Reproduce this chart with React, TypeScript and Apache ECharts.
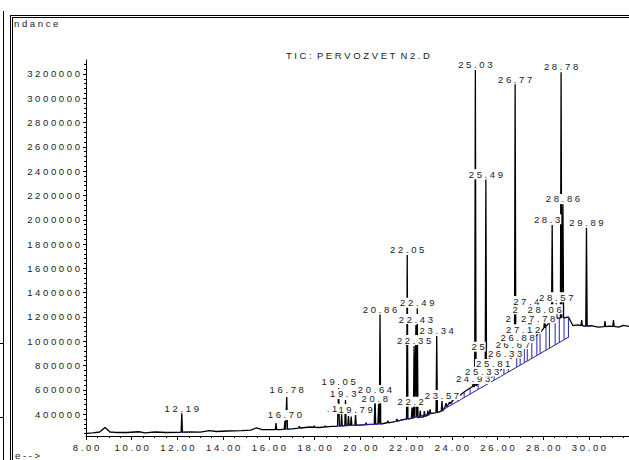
import React, { useEffect, useRef } from 'react';
import * as echarts from 'echarts';

// ---- chromatogram baseline trace (time in min, abundance) ----
const traceTimes = [8.0, 8.3, 8.6, 8.83, 9.05, 9.3, 9.8, 10.3, 10.6, 11.0, 11.5, 12.0, 12.5, 13.0, 13.4, 13.7, 14.2, 14.8, 15.2, 15.45, 15.7, 16.0, 16.5, 17.0, 17.4, 17.8, 18.2, 18.6, 19.0, 20.0, 20.4, 21.0, 21.4, 21.8, 22.7, 23.1, 23.7, 24.01, 24.27, 24.54, 24.8, 25.15, 25.535, 25.85, 26.07, 26.28, 26.47, 26.84, 26.99, 27.17, 27.3, 27.5, 27.72, 27.86, 28.12, 28.27, 28.52, 28.7, 28.91, 29.1, 29.3, 29.5, 29.8, 30.1, 30.4, 30.9, 31.3, 31.5, 31.75];
const traceValues = [241000, 245000, 253000, 290000, 253000, 249000, 249000, 255000, 246000, 253000, 249000, 250000, 253000, 252000, 265000, 257000, 261000, 265000, 269000, 286000, 273000, 273000, 273000, 278000, 286000, 294000, 290000, 298000, 302000, 310000, 316000, 323000, 335000, 352000, 376000, 409000, 459000, 508000, 541000, 582000, 615000, 648000, 681000, 714000, 747000, 795000, 829000, 911000, 928000, 950000, 985000, 1010000, 1051000, 1068000, 1125000, 1150000, 1191000, 1191000, 1191000, 1200000, 1128000, 1134000, 1125000, 1128000, 1117000, 1125000, 1117000, 1130000, 1122000];

// ---- peaks ----
const peakTimes = [12.19, 16.31, 16.7, 16.78, 17.33, 17.98, 18.45, 19.05, 19.18, 19.35, 19.48, 19.6, 19.79, 20.25, 20.64, 20.8, 20.86, 21.2, 21.6, 22.05, 22.26, 22.35, 22.43, 22.49, 22.62, 22.8, 22.95, 23.05, 23.34, 23.57, 23.75, 23.9, 24.15, 24.93, 25.03, 25.33, 25.49, 25.58, 25.65, 25.81, 26.33, 26.67, 26.77, 26.88, 27.12, 27.25, 27.38, 27.45, 27.78, 28.06, 28.39, 28.57, 28.78, 28.86, 29.68, 29.89, 30.7, 31.07];
const peakApex = [407000, 327000, 343000, 541000, 300000, 305000, 303000, 615000, 401000, 516000, 385000, 380000, 393000, 330000, 549000, 483000, 1222000, 345000, 360000, 1710000, 455000, 961000, 1134000, 1271000, 430000, 425000, 430000, 440000, 1043000, 508000, 490000, 500000, 540000, 648000, 3233000, 706000, 2333000, 792000, 906000, 763000, 851000, 928000, 3115000, 977000, 1049000, 1139000, 1213000, 1282000, 1139000, 1213000, 1957000, 1312000, 3214000, 2127000, 1175000, 1935000, 1167000, 1175000];
const peakBase = [251000, 272000, 276000, 277000, 284000, 292000, 294000, 303000, 304000, 306000, 307000, 308000, 309000, 313000, 318000, 320000, 321000, 329000, 343000, 360000, 366000, 368000, 370000, 372000, 374000, 380000, 390000, 405000, 412000, 425000, 462000, 485000, 525000, 625000, 633000, 660000, 678000, 688000, 695000, 710000, 804000, 870000, 890000, 915000, 944000, 965000, 995000, 1005000, 1058000, 1110000, 1160000, 1191000, 1191000, 1191000, 1128000, 1126000, 1120000, 1122000];

// ---- retention time labels (as visible; some are partly hidden in the source) ----
const labelTexts = ['12.19', '16.70', '16.78', '19.05', '19.3', '.1', '19.79', '20.64', '20.8', '20.86', '22.05', '22.2', '22.35', '22.43', '22.49', '23.34', '23.57', '24.93', '25.03', '25.33', '25.49', '25', '25.81', '26.33', '26.67', '26.77', '26.88', '27.12', '2', '27.78', '2', '28.06', '27.4', '28.3', '28.57', '28.78', '28.86', '29.89'];
const labelTimes = [12.19, 16.7, 16.78, 19.05, 19.25, 18.76, 19.79, 20.64, 20.63, 20.86, 22.05, 22.2, 22.35, 22.43, 22.49, 23.34, 23.57, 24.93, 25.03, 25.33, 25.49, 25.15, 25.81, 26.33, 26.67, 26.77, 26.88, 27.12, 26.46, 27.78, 26.77, 28.06, 27.26, 28.17, 28.57, 28.78, 28.86, 29.89];
const labelValues = [450000, 393000, 599000, 667000, 566000, 450000, 442000, 599000, 530000, 1263000, 1757000, 502000, 1010000, 1183000, 1317000, 1087000, 557000, 690000, 3282000, 749000, 2374000, 955000, 813000, 901000, 977000, 3158000, 1027000, 1098000, 1189000, 1189000, 1263000, 1263000, 1331000, 2004000, 1362000, 3260000, 2171000, 1981000];

// ---- integration baselines (blue) ----
const blueFromT = [12.1, 16.62, 18.95, 21.45, 23.45, 29.75];
const blueFromV = [249000, 274000, 300000, 335000, 418000, 1122000];
const blueToT = [12.38, 16.95, 20.98, 23.1, 29.12, 30.05];
const blueToV = [251000, 277000, 320000, 405000, 1035000, 1124000];

// ---- drop lines (blue) ----
const dropTimes = [23.7, 24.01, 24.27, 24.54, 24.8, 25.15, 25.535, 25.85, 26.07, 26.28, 26.47, 26.84, 26.99, 27.17, 27.3, 27.5, 27.72, 27.86, 28.12, 28.27, 28.52, 28.7, 28.91, 29.1];
const dropBottoms = [445000, 479000, 507000, 537000, 565000, 603000, 645000, 679000, 703000, 726000, 747000, 787000, 803000, 823000, 837000, 859000, 882000, 898000, 926000, 942000, 970000, 989000, 1012000, 1033000];
const dropTops = [459000, 508000, 541000, 582000, 615000, 648000, 681000, 714000, 747000, 795000, 829000, 911000, 928000, 950000, 985000, 1010000, 1051000, 1068000, 1125000, 1150000, 1191000, 1191000, 1191000, 1200000];

// ---- axis ticks ----
const xTickValues = [8, 10, 12, 14, 16, 18, 20, 22, 24, 26, 28, 30];
const yTickValues = [400000, 600000, 800000, 1000000, 1200000, 1400000, 1600000, 1800000, 2000000, 2200000, 2400000, 2600000, 2800000, 3000000, 3200000];

const X_MIN = 8;
const X_MAX = 31.75;
const Y_MIN = 220000;
const Y_MAX = 3315000;

const FONT = '"Liberation Sans", Arial, sans-serif';
const FS = 9.5;
const spaced = (s: string) => s.split('').join(' ');

export default function App() {
  const ref = useRef<HTMLDivElement>(null);

  useEffect(() => {
    if (!ref.current) return;
    const chart = echarts.init(ref.current, undefined, { renderer: 'svg' });

    const HW = 0.03;
    const pts: [number, number][] = traceTimes.map((t, i) => [t, traceValues[i]] as [number, number]);
    peakTimes.forEach((t, i) => {
      pts.push([t - HW, peakBase[i]], [t, peakApex[i]], [t + HW, peakBase[i]]);
    });
    pts.sort((a, b) => a[0] - b[0]);

    const blueSegs: number[][] = [];
    blueFromT.forEach((t, i) => blueSegs.push([t, blueFromV[i], blueToT[i], blueToV[i]]));
    dropTimes.forEach((t, i) => blueSegs.push([t, dropBottoms[i], t, dropTops[i]]));

    const labelData = labelTimes.map((t, i) => [t, labelValues[i], i]);

    const xMinor: number[] = [];
    for (let v = 8.5; v <= 31.5; v += 0.5) if (v % 2 !== 0) xMinor.push(v);
    const yMinor: number[] = [];
    for (let v = 240000; v <= 3300000; v += 40000) if (v % 200000 !== 0) yMinor.push(v);

    const axisColor = '#000';
    const textColor = '#1a1a1a';

    chart.setOption({
      animation: false,
      backgroundColor: '#fff',
      grid: { left: 86, right: 0, top: 60, bottom: 24, containLabel: false },
      xAxis: [
        {
          type: 'value', min: X_MIN, max: X_MAX, position: 'bottom',
          axisLine: { show: true, lineStyle: { color: axisColor, width: 1 } },
          axisTick: { show: true, customValues: xTickValues, length: 4, lineStyle: { color: axisColor } },
          axisLabel: {
            show: true, customValues: xTickValues, margin: 6,
            formatter: (v: number) => spaced(Number(v).toFixed(2)),
            color: textColor, fontSize: FS, fontFamily: FONT,
          },
          splitLine: { show: false },
        },
        {
          type: 'value', min: X_MIN, max: X_MAX, position: 'bottom',
          axisLine: { show: false },
          axisTick: { show: true, customValues: xMinor, length: 2, lineStyle: { color: axisColor } },
          axisLabel: { show: false },
          splitLine: { show: false },
        },
      ],
      yAxis: [
        {
          type: 'value', min: Y_MIN, max: Y_MAX, position: 'left',
          axisLine: { show: true, lineStyle: { color: axisColor, width: 1 } },
          axisTick: { show: true, customValues: yTickValues, length: 3, lineStyle: { color: axisColor } },
          axisLabel: {
            show: true, customValues: yTickValues, margin: 6,
            formatter: (v: number) => spaced(String(v)),
            color: textColor, fontSize: FS, fontFamily: FONT,
          },
          splitLine: { show: false },
        },
        {
          type: 'value', min: Y_MIN, max: Y_MAX, position: 'left',
          axisLine: { show: false },
          axisTick: { show: true, customValues: yMinor, length: 2, lineStyle: { color: axisColor } },
          axisLabel: { show: false },
          splitLine: { show: false },
        },
      ],
      series: [
        {
          type: 'line', xAxisIndex: 0, yAxisIndex: 0,
          data: pts, showSymbol: false, symbol: 'none',
          lineStyle: { color: '#000', width: 1.3 },
          z: 2, silent: true,
        },
        {
          type: 'custom', xAxisIndex: 0, yAxisIndex: 0,
          data: blueSegs, encode: { x: [0, 2], y: [1, 3] }, z: 3, silent: true,
          renderItem: (params: any, api: any) => {
            const p1 = api.coord([api.value(0), api.value(1)]);
            const p2 = api.coord([api.value(2), api.value(3)]);
            return {
              type: 'line',
              shape: { x1: p1[0], y1: p1[1], x2: p2[0], y2: p2[1] },
              style: { stroke: '#2323a8', lineWidth: 1 },
            };
          },
        },
        {
          type: 'custom', xAxisIndex: 0, yAxisIndex: 0,
          data: labelData, encode: { x: 0, y: 1 }, z: 4, silent: true,
          renderItem: (params: any, api: any) => {
            const p = api.coord([api.value(0), api.value(1)]);
            const idx = api.value(2);
            return {
              type: 'text',
              x: p[0], y: p[1],
              style: {
                text: spaced(labelTexts[idx]),
                fill: textColor,
                font: FS + 'px ' + FONT,
                align: 'center',
                verticalAlign: 'middle',
                backgroundColor: '#fff',
                padding: [0, 1],
              },
            };
          },
        },
      ],
      graphic: [
        { type: 'line', shape: { x1: 3.5, y1: 11, x2: 3.5, y2: 460 }, style: { stroke: '#000', lineWidth: 1 } },
        { type: 'line', shape: { x1: 0, y1: 343.5, x2: 4, y2: 343.5 }, style: { stroke: '#000', lineWidth: 1 } },
        { type: 'line', shape: { x1: 0, y1: 417.5, x2: 4, y2: 417.5 }, style: { stroke: '#000', lineWidth: 1 } },
        { type: 'line', shape: { x1: 10.5, y1: 15, x2: 10.5, y2: 460 }, style: { stroke: '#000', lineWidth: 1 } },
        { type: 'line', shape: { x1: 12.5, y1: 17, x2: 12.5, y2: 460 }, style: { stroke: '#000', lineWidth: 1 } },
        { type: 'line', shape: { x1: 10, y1: 15.5, x2: 629, y2: 15.5 }, style: { stroke: '#000', lineWidth: 1 } },
        { type: 'line', shape: { x1: 12, y1: 17.5, x2: 629, y2: 17.5 }, style: { stroke: '#000', lineWidth: 1 } },
        {
          type: 'text', x: 14, y: 23,
          style: { text: spaced('ndance'), fill: textColor, font: FS + 'px ' + FONT, align: 'left', verticalAlign: 'middle' },
        },
        {
          type: 'text', x: 15, y: 455,
          style: { text: spaced('e-->'), fill: textColor, font: FS + 'px ' + FONT, align: 'left', verticalAlign: 'middle' },
        },
        {
          type: 'text', x: 358, y: 55,
          style: { text: 'T I C :  P E R V O Z V E T  N 2 . D', fill: textColor, font: FS + 'px ' + FONT, align: 'center', verticalAlign: 'middle' },
        },
      ],
    });

    return () => chart.dispose();
  }, []);

  return <div ref={ref} style={{ position: 'fixed', left: 0, top: 0, width: 629, height: 460 }} />;
}
